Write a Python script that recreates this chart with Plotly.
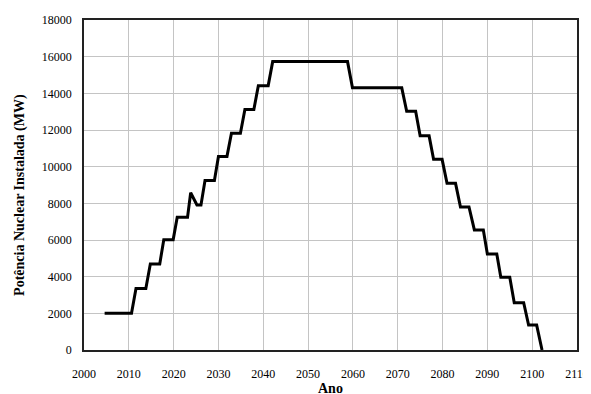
import plotly.graph_objects as go

# Step corners (year, installed nuclear power in MW)
years = [2004.6, 2010.6, 2011.6, 2013.8, 2014.8, 2016.9, 2017.8, 2019.9, 2020.8,
         2023.1, 2023.8, 2025.2, 2026.1, 2027.0, 2029.1, 2030.0, 2031.9, 2032.9,
         2034.9, 2035.9, 2037.9, 2038.9, 2041.1, 2042.1,
         2058.8, 2059.9, 2070.9, 2072.0, 2074.0, 2075.0, 2077.0, 2078.0,
         2079.9, 2081.0, 2082.9, 2084.0, 2085.9, 2087.1, 2089.1, 2090.0,
         2092.1, 2093.0, 2095.0, 2096.0, 2098.1, 2099.2, 2101.0, 2102.2]
power = [2000, 2000, 3350, 3350, 4690, 4690, 6020, 6020, 7240,
         7240, 8580, 7910, 7910, 9240, 9240, 10560, 10560, 11820,
         11820, 13120, 13120, 14420, 14420, 15730,
         15730, 14300, 14300, 13020, 13020, 11680, 11680, 10400,
         10400, 9090, 9090, 7800, 7800, 6550, 6550, 5240,
         5240, 3970, 3970, 2580, 2580, 1360, 1360, 0]

x_ticks = list(range(2000, 2111, 10))
y_ticks = list(range(0, 18001, 2000))

serif = "Liberation Serif, Times New Roman, serif"

fig = go.Figure()
fig.add_trace(go.Scatter(x=years, y=power, mode="lines",
                         line=dict(color="black", width=3),
                         showlegend=False))

fig.update_layout(
    width=591, height=394,
    margin=dict(l=76, r=22, t=12, b=52),
    paper_bgcolor="white", plot_bgcolor="white",
    font=dict(family=serif, color="black", size=12),
    xaxis=dict(range=[2000, 2110], tickvals=x_ticks, tickformat="d",
               showgrid=True, gridcolor="#c4c4c4", gridwidth=1,
               showline=True, linecolor="#222", linewidth=1.5, mirror=True,
               ticks="outside", ticklen=12, tickcolor="rgba(0,0,0,0)",
               zeroline=False, automargin=False,
               tickfont=dict(family=serif, size=12)),
    yaxis=dict(range=[0, 18000], tickvals=y_ticks, tickformat="d",
               showgrid=True, gridcolor="#c4c4c4", gridwidth=1,
               showline=True, linecolor="#222", linewidth=1.5, mirror=True,
               ticks="outside", ticklen=8, tickcolor="rgba(0,0,0,0)",
               zeroline=False, automargin=False,
               tickfont=dict(family=serif, size=12)),
    annotations=[
        dict(text="<b>Ano</b>", xref="paper", yref="paper", x=0.5, y=0,
             yshift=-38, xanchor="center", yanchor="middle", showarrow=False,
             font=dict(family=serif, size=14)),
        dict(text="<b>Potência Nuclear Instalada (MW)</b>", xref="paper", yref="paper",
             x=0, xshift=-64, y=0.47, textangle=-90, xanchor="center", yanchor="middle",
             showarrow=False, font=dict(family=serif, size=14)),
    ],
)

fig.write_html("out.html")
